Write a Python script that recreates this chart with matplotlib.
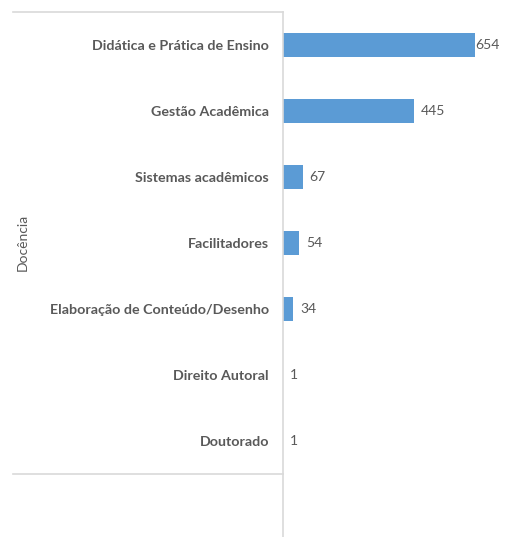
import matplotlib.pyplot as plt
from matplotlib.lines import Line2D

categories = ['Didática e Prática de Ensino', 'Gestão Acadêmica', 'Sistemas acadêmicos',
              'Facilitadores', 'Elaboração de Conteúdo/Desenho', 'Direito Autoral', 'Doutorado']
values = [654, 445, 67, 54, 34, 1, 1]
group_label = 'Docência'

bar_color = '#5B9BD5'
text_color = '#595959'
line_color = '#D9D9D9'

W, H = 506, 537
fig = plt.figure(figsize=(W / 100, H / 100), dpi=100)
plt.rcParams['font.family'] = ['Lato', 'DejaVu Sans']

# plot area: x 283..506, y 12..474 (pixels from top)
ax = fig.add_axes([283 / W, 1 - 474 / H, (W - 283) / W, (474 - 12) / H])
pos = list(range(len(categories)))
ax.barh(pos, values, height=0.35, color=bar_color)
ax.set_ylim(len(categories) - 0.5, -0.5)
ax.set_xlim(0, 760)

for i, v in enumerate(values):
    pad = 0.5 if v == max(values) else 5
    ax.annotate(str(v), (v, i), xytext=(pad, 0), textcoords='offset points',
                va='center', ha='left', fontsize=10, color=text_color)

ax.set_yticks(pos)
ax.set_yticklabels(categories, fontsize=10.3, color=text_color, fontweight='bold')
ax.tick_params(axis='y', length=0, pad=10)
ax.set_xticks([])
for s in ['top', 'right', 'bottom', 'left']:
    ax.spines[s].set_visible(False)

# axis line and category group brackets
def fx(px):
    return px / W

def fy(py):
    return 1 - py / H

fig.add_artist(Line2D([fx(283), fx(283)], [fy(12), fy(537)], color=line_color, lw=1.2))
fig.add_artist(Line2D([fx(13), fx(283)], [fy(12), fy(12)], color=line_color, lw=1.2))
fig.add_artist(Line2D([fx(13), fx(283)], [fy(474), fy(474)], color=line_color, lw=1.2))
fig.text(fx(23), fy(242), group_label, rotation=90, ha='center', va='center',
         fontsize=10, color=text_color)

fig.savefig('out.png', dpi=100)
